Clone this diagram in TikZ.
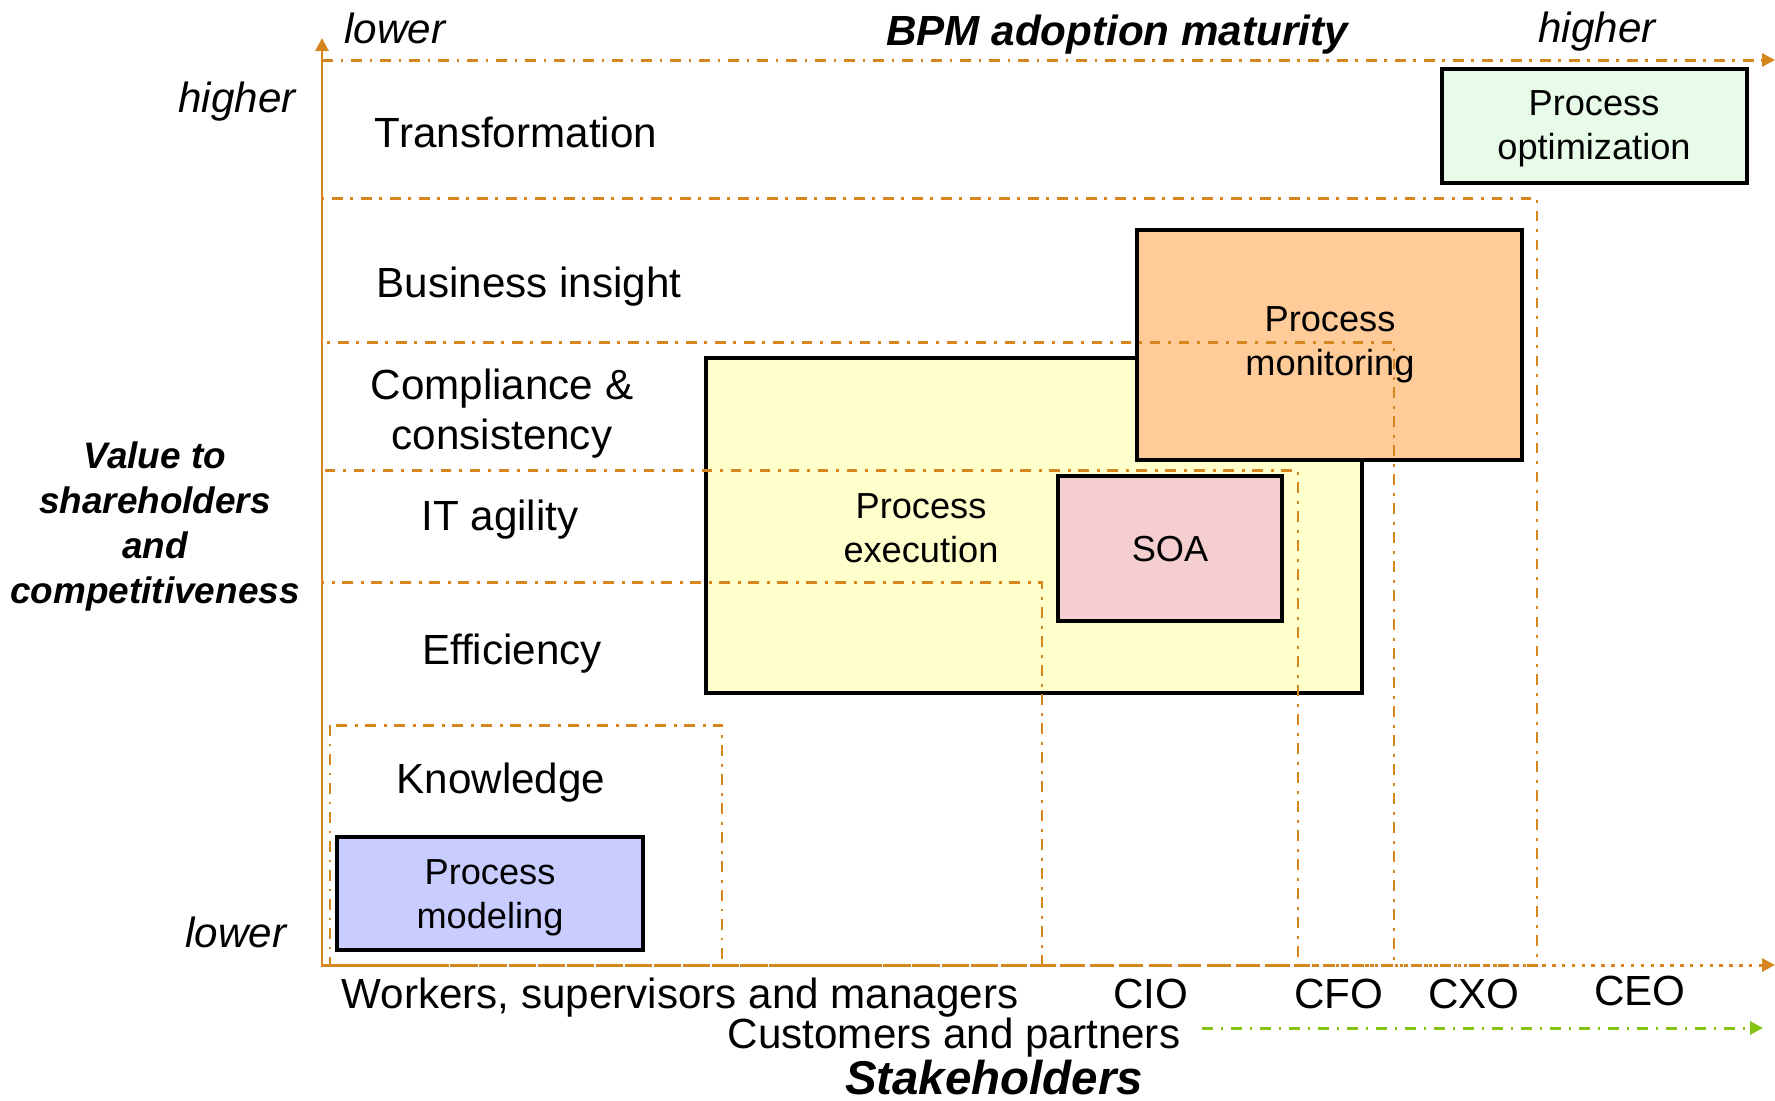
\documentclass[tikz,border=0pt]{standalone}
\usepackage{fontspec}
\setmainfont{Liberation Sans}
\usetikzlibrary{arrows.meta}
\definecolor{axisorange}{RGB}{214,134,30}
\definecolor{custgreen}{RGB}{130,195,20}
\definecolor{optfill}{RGB}{232,251,232}
\definecolor{monfill}{RGB}{255,204,153}
\definecolor{execfill}{RGB}{255,255,204}
\definecolor{soafill}{RGB}{245,206,208}
\definecolor{modfill}{RGB}{200,204,255}

\begin{document}
\begin{tikzpicture}[x=0.1mm, y=-0.1mm,
  region/.style={draw=axisorange, line width=0.85pt,
    dash pattern=on 3.1pt off 2.2pt on 0.75pt off 2.2pt},
  axis/.style={draw=axisorange, line width=0.85pt,
    -{Triangle[length=1.3mm,width=1.3mm]}},
  box/.style={draw=black, line width=0.9pt},
  lbl/.style={inner sep=0pt, anchor=base, font=\fontsize{12}{14.2}\selectfont},
  boxlbl/.style={inner sep=0pt, align=center, font=\fontsize{10.3}{12.5}\selectfont},
  axlbl/.style={inner sep=0pt, anchor=base, font=\fontsize{12}{14}\selectfont\itshape}]
  \useasboundingbox (0,0) rectangle (1775,1101);

  %% coloured boxes
  \draw[box, fill=optfill] (1442,69) rectangle (1747,183);
  \draw[box, fill=execfill] (706,358) rectangle (1362,693);
  \draw[box, fill=monfill] (1137,230) rectangle (1522,460);
  \draw[box, fill=soafill] (1058,476) rectangle (1282,621);
  \draw[box, fill=modfill] (337,837) rectangle (643,950);

  %% value regions
  \draw[region] (322,198) rectangle (1537,965);
  \draw[region] (322,342) rectangle (1394,965);
  \draw[region] (322,470) rectangle (1298,965);
  \draw[region] (322,582) rectangle (1042,965);
  \draw[region] (330,725) rectangle (722,965);

  %% axes
  \coordinate (origin) at (322,965);
  \coordinate (ytip) at (322,38);
  \coordinate (xtip) at (1775,965);
  \coordinate (topstart) at (322,60);
  \coordinate (toptip) at (1775,60);
  \coordinate (custstart) at (1202,1028);
  \coordinate (custtip) at (1763,1028);
  \draw[axis] (origin) -- (ytip);
  \draw[axis, dash pattern=on 1pt off 1.8pt] (origin) -- (xtip);
  \draw[axis, region] (topstart) -- (toptip);
  \draw[axis, region, draw=custgreen] (custstart) -- (custtip);

  %% rows
  \node[lbl] (transf) at (516,147) {Transformation};
  \node[lbl] (insight) at (529,297) {Business insight};
  \node[lbl, anchor=center, align=center] (compl) at (502,414) {Compliance \&\\consistency};
  \node[lbl] (itagil) at (500,530) {IT agility};
  \node[lbl] (effic) at (512,664) {Efficiency};
  \node[lbl] (knowl) at (501,793) {Knowledge};

  %% box texts
  \node[boxlbl] (optim) at (1594,129) {Process\\optimization};
  \node[boxlbl] (monit) at (1330,345) {Process\\monitoring};
  \node[boxlbl] (execu) at (921,528) {Process\\execution};
  \node[boxlbl] (soa) at (1170,549) {SOA};
  \node[boxlbl] (model) at (490,898) {Process\\modeling};

  %% axis labels
  \node[axlbl] (lowertop) at (395,43) {lower};
  \node[axlbl, font=\fontsize{12}{14}\selectfont\bfseries\itshape] (maturity) at (1117,45) {BPM adoption maturity};
  \node[axlbl] (highertop) at (1597,42) {higher};
  \node[axlbl] (higherleft) at (237,112) {higher};
  \node[axlbl] (lowerleft) at (236,947) {lower};
  \node[inner sep=0pt, align=center, font=\fontsize{10.5}{12.8}\selectfont\bfseries\itshape] (value) at (155,526)
    {Value to\\shareholders\\and\\competitiveness};

  %% stakeholders
  \node[lbl] (workers) at (680,1008) {Workers, supervisors and managers};
  \node[lbl] (cio) at (1151,1008) {CIO};
  \node[lbl] (cfo) at (1339,1008) {CFO};
  \node[lbl] (cxo) at (1474,1008) {CXO};
  \node[lbl] (ceo) at (1640,1005) {CEO};
  \node[lbl] (cust) at (954,1048) {Customers and partners};
  \node[lbl, font=\fontsize{13.5}{16}\selectfont\bfseries\itshape] (stake) at (994,1094) {Stakeholders};

\end{tikzpicture}
\end{document}
